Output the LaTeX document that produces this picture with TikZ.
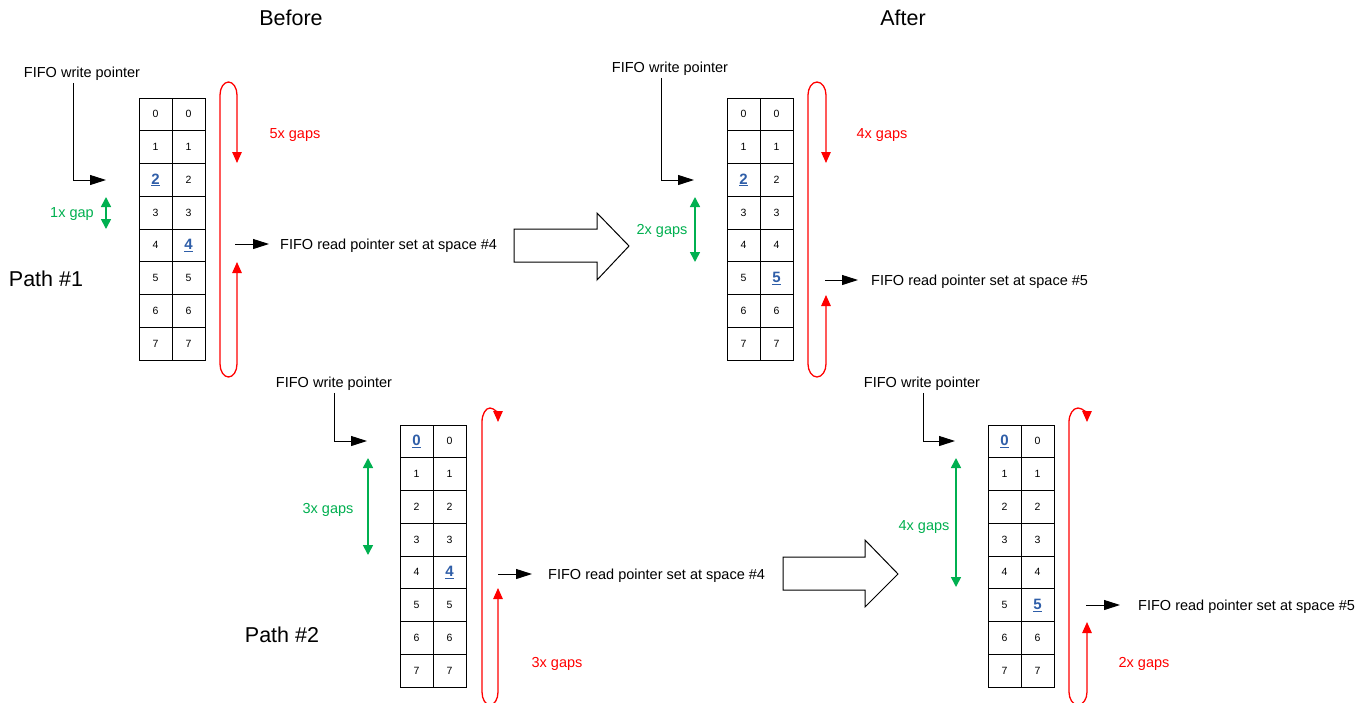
\documentclass[tikz,border=0pt]{standalone}
\usepackage{fontspec}
\setmainfont{Liberation Sans}
\usetikzlibrary{arrows.meta}
\definecolor{gapred}{RGB}{255,0,0}
\definecolor{gapgreen}{RGB}{0,176,80}
\definecolor{hiblue}{RGB}{47,94,168}
\newcommand{\hinum}[1]{{\fontsize{15}{15}\selectfont\bfseries\color{hiblue}\underline{#1}}}
\newcommand{\fifotable}[5]{%
  \foreach \r in {0,...,7}{%
    \node[cell] (#1-\r-0) at ({#2+16.5},{#3+16.375+\r*32.75}) {\ifnum\r=#4 \hinum{\r}\else\r\fi};
    \node[cell] (#1-\r-1) at ({#2+49.5},{#3+16.375+\r*32.75}) {\ifnum\r=#5 \hinum{\r}\else\r\fi};
  }}
\begin{document}
\begin{tikzpicture}[x=1pt,y=-1pt,
  cell/.style={draw,line width=0.9pt,minimum width=33pt,minimum height=32.75pt,inner sep=0pt,font=\fontsize{10.5}{12}\selectfont},
  lbl/.style={inner sep=0pt,yshift=-2pt,font=\fontsize{14.5}{17}\selectfont},
  redlbl/.style={lbl,text=gapred},
  greenlbl/.style={lbl,text=gapgreen},
  title/.style={inner sep=0pt,font=\fontsize{21.5}{25}\selectfont},
  ptr/.style={line width=1pt,-{Triangle[length=16pt,width=10pt]}},
  gaploop/.style={draw=gapred,line width=1.3pt,{Triangle[length=11pt,width=9.5pt]}-{Triangle[length=11pt,width=9.5pt]}},
  gaparrow/.style={draw=gapgreen,line width=1.6pt,{Triangle[length=10pt,width=10pt]}-{Triangle[length=10pt,width=10pt]}},
  bigarrow/.style={draw,line width=1pt,fill=white}]
\useasboundingbox (0,0) rectangle (1369,702);
\fill[white] (0,0) rectangle (1369,702);

% titles
\node[title] (before) at (291,18) {Before};
\node[title] (after) at (903,18) {After};
\node[title] (path1) at (46,279) {Path \#1};
\node[title] (path2) at (282,635) {Path \#2};

% ---------- Panel A (top-left) ----------
\fifotable{A}{139}{98}{2}{4}
\node[lbl] (wpA) at (82,72) {FIFO write pointer};
\coordinate (wpAtip) at (106,180);
\draw[ptr] ([xshift=-9pt,yshift=-2pt]wpA.south) |- (wpAtip);
\node[greenlbl] (gA) at (72,212) {1x gap};
\coordinate (gA1) at (106,197);
\coordinate (gA2) at (106,229);
\draw[gaparrow] (gA1) -- (gA2);
\coordinate (lA1) at (237,163);
\coordinate (lA2) at (237,262);
\draw[gaploop] (lA1) -- (237,95) arc[start angle=0,end angle=180,x radius=8.5pt,y radius=13pt]
  -- (220,364) arc[start angle=180,end angle=360,x radius=8.5pt,y radius=13pt] -- (lA2);
\node[redlbl] (rA) at (295,133) {5x gaps};
\node[lbl,anchor=west] (rdA) at (280,244) {FIFO read pointer set at space \#4};
\draw[ptr] ([xshift=-45pt,yshift=2pt]rdA.west) -- ([xshift=-11pt,yshift=2pt]rdA.west);

% big arrow top
\draw[bigarrow] (514,229) -- (597,229) -- (597,213) -- (629,246) -- (597,280) -- (597,262) -- (514,262) -- cycle;

% ---------- Panel B (top-right) ----------
\fifotable{B}{727}{98}{2}{5}
\node[lbl] (wpB) at (670,67) {FIFO write pointer};
\coordinate (wpBtip) at (694,180);
\draw[ptr] ([xshift=-9pt,yshift=-2pt]wpB.south) |- (wpBtip);
\node[greenlbl] (gB) at (662,229) {2x gaps};
\coordinate (gB1) at (695,197);
\coordinate (gB2) at (695,262);
\draw[gaparrow] (gB1) -- (gB2);
\coordinate (lB1) at (826,163);
\coordinate (lB2) at (826,295);
\draw[gaploop] (lB1) -- (826,95) arc[start angle=0,end angle=180,x radius=9pt,y radius=13pt]
  -- (808,364) arc[start angle=180,end angle=360,x radius=9pt,y radius=13pt] -- (lB2);
\node[redlbl] (rB) at (882,133) {4x gaps};
\node[lbl,anchor=west] (rdB) at (871,280) {FIFO read pointer set at space \#5};
\draw[ptr] ([xshift=-46pt,yshift=2pt]rdB.west) -- ([xshift=-13pt,yshift=2pt]rdB.west);

% ---------- Panel C (bottom-left) ----------
\fifotable{C}{400}{425}{0}{4}
\node[lbl] (wpC) at (334,382) {FIFO write pointer};
\coordinate (wpCtip) at (367,441);
\draw[ptr] ([yshift=-2pt]wpC.south) |- (wpCtip);
\node[greenlbl] (gC) at (328,508) {3x gaps};
\coordinate (gC1) at (368,458);
\coordinate (gC2) at (368,555);
\draw[gaparrow] (gC1) -- (gC2);
\coordinate (lC1) at (498,588);
\draw[gaploop] (lC1) -- (498,692) arc[start angle=0,end angle=-180,x radius=8pt,y radius=13pt]
  -- (482,422) arc[start angle=180,end angle=0,x radius=8pt,y radius=14pt];
\node[redlbl] (rC) at (557,662) {3x gaps};
\node[lbl,anchor=west] (rdC) at (548,574) {FIFO read pointer set at space \#4};
\draw[ptr] ([xshift=-50pt,yshift=2pt]rdC.west) -- ([xshift=-16pt,yshift=2pt]rdC.west);

% big arrow bottom
\draw[bigarrow] (783,557) -- (865,557) -- (865,540) -- (898,574) -- (865,607) -- (865,590) -- (783,590) -- cycle;

% ---------- Panel D (bottom-right) ----------
\fifotable{D}{988}{425}{0}{5}
\node[lbl] (wpD) at (922,382) {FIFO write pointer};
\coordinate (wpDtip) at (955,441);
\draw[ptr] ([xshift=1pt,yshift=-2pt]wpD.south) |- (wpDtip);
\node[greenlbl] (gD) at (924,525) {4x gaps};
\coordinate (gD1) at (956,458);
\coordinate (gD2) at (956,587);
\draw[gaparrow] (gD1) -- (gD2);
\coordinate (lD1) at (1087,622);
\draw[gaploop] (lD1) -- (1087,692) arc[start angle=0,end angle=-180,x radius=9pt,y radius=13pt]
  -- (1069,422) arc[start angle=180,end angle=0,x radius=9pt,y radius=14pt];
\node[redlbl] (rD) at (1144,662) {2x gaps};
\node[lbl,anchor=west] (rdD) at (1138,605) {FIFO read pointer set at space \#5};
\draw[ptr] ([xshift=-52pt,yshift=2pt]rdD.west) -- ([xshift=-18pt,yshift=2pt]rdD.west);
\end{tikzpicture}
\end{document}
